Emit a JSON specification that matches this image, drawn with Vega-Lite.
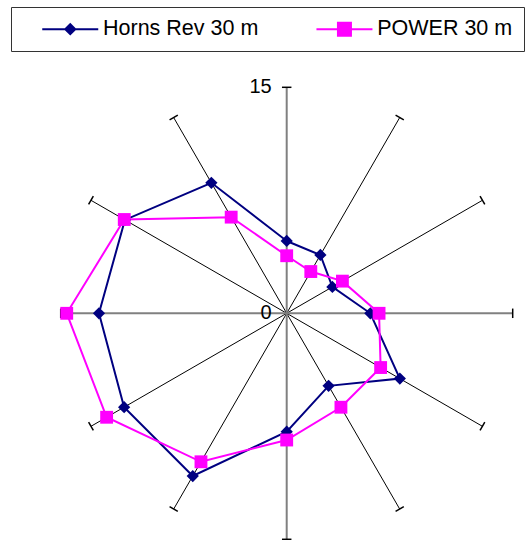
{
  "$schema": "https://vega.github.io/schema/vega-lite/v6.json",
  "width": 452,
  "height": 452,
  "autosize": {"type": "none"},
  "padding": {"left": 60.7, "top": 87.3, "right": 12.3, "bottom": 0.7},
  "config": {"view": {"stroke": null}, "font": "Liberation Sans"},
  "datasets": {
    "spokes": [
      {"angle": 0}, {"angle": 30}, {"angle": 60}, {"angle": 90},
      {"angle": 120}, {"angle": 150}, {"angle": 180}, {"angle": 210},
      {"angle": 240}, {"angle": 270}, {"angle": 300}, {"angle": 330}
    ],
    "series": [
      {"series": "Horns Rev 30 m", "angle": 0, "value": 4.8},
      {"series": "Horns Rev 30 m", "angle": 30, "value": 4.47},
      {"series": "Horns Rev 30 m", "angle": 60, "value": 3.5},
      {"series": "Horns Rev 30 m", "angle": 90, "value": 5.55},
      {"series": "Horns Rev 30 m", "angle": 120, "value": 8.67},
      {"series": "Horns Rev 30 m", "angle": 150, "value": 5.56},
      {"series": "Horns Rev 30 m", "angle": 180, "value": 7.86},
      {"series": "Horns Rev 30 m", "angle": 210, "value": 12.47},
      {"series": "Horns Rev 30 m", "angle": 240, "value": 12.46},
      {"series": "Horns Rev 30 m", "angle": 270, "value": 12.46},
      {"series": "Horns Rev 30 m", "angle": 300, "value": 12.4},
      {"series": "Horns Rev 30 m", "angle": 330, "value": 10.0},
      {"series": "POWER 30 m", "angle": 0, "value": 3.82},
      {"series": "POWER 30 m", "angle": 30, "value": 3.2},
      {"series": "POWER 30 m", "angle": 60, "value": 4.27},
      {"series": "POWER 30 m", "angle": 90, "value": 6.13},
      {"series": "POWER 30 m", "angle": 120, "value": 7.2},
      {"series": "POWER 30 m", "angle": 150, "value": 7.2},
      {"series": "POWER 30 m", "angle": 180, "value": 8.41},
      {"series": "POWER 30 m", "angle": 210, "value": 11.38},
      {"series": "POWER 30 m", "angle": 240, "value": 13.8},
      {"series": "POWER 30 m", "angle": 270, "value": 14.6},
      {"series": "POWER 30 m", "angle": 300, "value": 12.45},
      {"series": "POWER 30 m", "angle": 330, "value": 7.37}
    ],
    "labels": [
      {"label": "15", "value": 15},
      {"label": "0", "value": 0}
    ]
  },
  "layer": [
    {
      "data": {"name": "spokes"},
      "transform": [
        {"filter": "datum.angle % 90 !== 0"},
        {"calculate": "15 * sin(datum.angle * PI / 180)", "as": "ex"},
        {"calculate": "15 * cos(datum.angle * PI / 180)", "as": "ey"}
      ],
      "mark": {"type": "rule", "color": "black", "strokeWidth": 1},
      "encoding": {
        "x": {"field": "ex", "type": "quantitative", "scale": {"domain": [-15, 15], "nice": false, "zero": false}, "axis": null},
        "y": {"field": "ey", "type": "quantitative", "scale": {"domain": [-15, 15], "nice": false, "zero": false}, "axis": null},
        "x2": {"datum": 0},
        "y2": {"datum": 0}
      }
    },
    {
      "data": {"name": "spokes"},
      "transform": [
        {"filter": "datum.angle % 90 === 0"},
        {"calculate": "15 * sin(datum.angle * PI / 180)", "as": "ex"},
        {"calculate": "15 * cos(datum.angle * PI / 180)", "as": "ey"}
      ],
      "mark": {"type": "rule", "color": "#808080", "strokeWidth": 2},
      "encoding": {
        "x": {"field": "ex", "type": "quantitative"},
        "y": {"field": "ey", "type": "quantitative"},
        "x2": {"datum": 0},
        "y2": {"datum": 0}
      }
    },
    {
      "data": {"name": "spokes"},
      "transform": [
        {"calculate": "15 * sin(datum.angle * PI / 180)", "as": "ex"},
        {"calculate": "15 * cos(datum.angle * PI / 180)", "as": "ey"}
      ],
      "mark": {"type": "point", "shape": "stroke", "size": 90, "stroke": "black", "strokeWidth": 1.5, "filled": false, "opacity": 1},
      "encoding": {
        "x": {"field": "ex", "type": "quantitative"},
        "y": {"field": "ey", "type": "quantitative"},
        "angle": {"field": "angle", "type": "quantitative", "scale": {"domain": [0, 360], "range": [0, 360]}}
      }
    },
    {
      "data": {"name": "labels"},
      "mark": {"type": "text", "align": "right", "baseline": "middle", "dx": -15, "fontSize": 20, "font": "Liberation Sans", "color": "black"},
      "encoding": {
        "x": {"datum": 0},
        "y": {"field": "value", "type": "quantitative"},
        "text": {"field": "label"}
      }
    },
    {
      "data": {"name": "series"},
      "transform": [
        {"calculate": "datum.value * sin(datum.angle * PI / 180)", "as": "px"},
        {"calculate": "datum.value * cos(datum.angle * PI / 180)", "as": "py"}
      ],
      "mark": {"type": "line", "interpolate": "linear-closed", "strokeWidth": 2},
      "encoding": {
        "x": {"field": "px", "type": "quantitative"},
        "y": {"field": "py", "type": "quantitative"},
        "order": {"field": "angle", "type": "quantitative"},
        "color": {
          "field": "series", "type": "nominal",
          "scale": {"domain": ["Horns Rev 30 m", "POWER 30 m"], "range": ["#000080", "#FF00FF"]},
          "legend": {
            "title": null,
            "orient": "none",
            "direction": "horizontal",
            "columns": 2,
            "legendX": -49.7,
            "legendY": -80.3,
            "padding": 11,
            "strokeColor": "#333333",
            "symbolSize": 100,
            "symbolOffset": 37.5,
            "labelOffset": 22,
            "columnPadding": 37.2,
            "symbolType": {"expr": "datum.value === 'POWER 30 m' ? 'M-5.6,0L-1.3,0M1.3,0L5.6,0M-1.3,-1.3L1.3,-1.3L1.3,1.3L-1.3,1.3Z' : 'M-5.6,0L-1,0M1,0L5.6,0M-1,0L0,-1L1,0L0,1Z'"},
            "symbolFillColor": {"expr": "datum.value === 'POWER 30 m' ? '#FF00FF' : '#000080'"},
            "symbolStrokeWidth": 2,
            "symbolOpacity": 1,
            "labelFont": "Liberation Sans",
            "labelFontSize": 21.5,
            "labelColor": "black",
            "labelLimit": 300
          }
        }
      }
    },
    {
      "data": {"name": "series"},
      "transform": [
        {"filter": "datum.series === 'Horns Rev 30 m'"},
        {"calculate": "datum.value * sin(datum.angle * PI / 180)", "as": "px"},
        {"calculate": "datum.value * cos(datum.angle * PI / 180)", "as": "py"}
      ],
      "mark": {"type": "point", "filled": true, "opacity": 1, "size": 150, "shape": "diamond", "color": "#000080"},
      "encoding": {
        "x": {"field": "px", "type": "quantitative"},
        "y": {"field": "py", "type": "quantitative"}
      }
    },
    {
      "data": {"name": "series"},
      "transform": [
        {"filter": "datum.series === 'POWER 30 m'"},
        {"calculate": "datum.value * sin(datum.angle * PI / 180)", "as": "px"},
        {"calculate": "datum.value * cos(datum.angle * PI / 180)", "as": "py"}
      ],
      "mark": {"type": "point", "filled": true, "opacity": 1, "size": 165, "shape": "square", "color": "#FF00FF"},
      "encoding": {
        "x": {"field": "px", "type": "quantitative"},
        "y": {"field": "py", "type": "quantitative"}
      }
    }
  ]
}
